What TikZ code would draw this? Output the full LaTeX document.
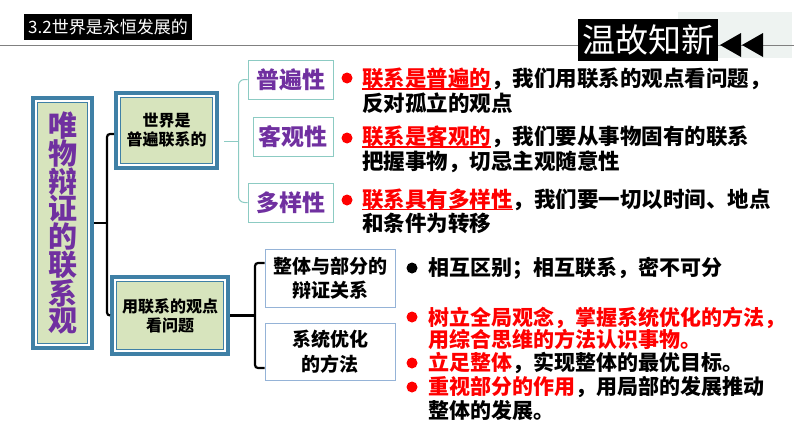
\documentclass[tikz,border=0pt]{standalone}
\usepackage{fontspec}
\setmainfont{Noto Sans CJK SC}
\definecolor{boxblue}{HTML}{3F80A6}
\definecolor{boxgreen}{HTML}{D7E4BD}
\definecolor{zipurple}{HTML}{7030A0}
\definecolor{tealline}{HTML}{8CCBC3}
\definecolor{lanbian}{HTML}{95B3D7}
\definecolor{hongse}{HTML}{FF0000}
\definecolor{shuiyin}{HTML}{EEF3F1}
\newcommand{\huaxian}[1]{\setbox0=\hbox{#1}\rlap{\rule[-3pt]{\wd0}{1.6pt}}\box0}

\begin{document}
\begin{tikzpicture}[x=1pt,y=-1pt,
  mainbox/.style={draw=boxblue, line width=4, fill=boxgreen, align=center,
    path picture={
      \draw[white, line width=1.5] ([shift={(2.8,2.8)}]path picture bounding box.north west) rectangle ([shift={(-2.8,-2.8)}]path picture bounding box.south east);
      \draw[boxblue, line width=1] ([shift={(4.2,4.2)}]path picture bounding box.north west) rectangle ([shift={(-4.2,-4.2)}]path picture bounding box.south east);
    }},
  labelbox/.style={draw=tealline, line width=1, fill=white, text=zipurple, font=\fontsize{23}{26}\selectfont\bfseries},
  subbox/.style={draw=lanbian, line width=1, fill=white, align=center, font=\fontsize{19}{24.5}\selectfont\bfseries},
  darkbrace/.style={line width=2.2, rounded corners=3},
  lightbrace/.style={tealline, line width=1, rounded corners=6},
  dot/.style={circle, minimum size=11},
  txt/.style={anchor=west, align=left, font=\fontsize{21.5}{24.5}\selectfont\bfseries}]
\tikzstyle{every node}+=[inner sep=0pt]
\useasboundingbox (0,0) rectangle (794,447);
\fill[shuiyin] (678,12) rectangle (792,58);
\coordinate (lineL) at (0,45);
\coordinate (lineR) at (794,45);
\draw[gray, line width=1] (lineL) -- (lineR);
\node[fill=black, text=white, minimum width=168, minimum height=26, font=\fontsize{17}{17}\selectfont] (biaoti) at (108,27) {3.2世界是永恒发展的};
\node[fill=black, text=white, minimum width=140, minimum height=42, font=\fontsize{33}{33}\selectfont] (wengu) at (648,40) {温故知新};
\fill (720,45) -- (741,33) -- (741,57) -- cycle;
\fill (742,45) -- (763,33) -- (763,57) -- cycle;

\node[mainbox, minimum width=59, minimum height=250, text=zipurple, font=\fontsize{29}{27.6}\selectfont\bfseries] (guan) at (62.5,223) {唯\\物\\辩\\证\\的\\联\\系\\观};
\node[mainbox, minimum width=101, minimum height=75, font=\fontsize{16}{19}\selectfont\bfseries] (jie) at (166.5,130.5) {世界是\\普遍联系的};
\node[mainbox, minimum width=116, minimum height=77, font=\fontsize{16}{19}\selectfont\bfseries] (yong) at (170,315.5) {用联系的观点\\看问题};
\coordinate (zhong) at (107,223);
\draw[darkbrace] (guan.east) -- (zhong);
\draw[darkbrace] ([yshift=-3.5pt]jie.west) -| (zhong) |- (yong.west);

\node[labelbox, minimum width=85, minimum height=39] (pu) at (290.5,79.5) {普遍性};
\node[labelbox, minimum width=80, minimum height=39] (ke) at (293,136.5) {客观性};
\node[labelbox, minimum width=85, minimum height=39] (duo) at (290.5,202.5) {多样性};
\coordinate (fen) at (238.5,141);
\coordinate (fenL) at (224,141);
\draw[lightbrace] (pu.west) -| (fen) |- (duo.west);
\draw[lightbrace] (fenL) -- (fen);

\node[subbox, minimum width=130, minimum height=58] (zhengti) at (330,278) {整体与部分的\\辩证关系};
\node[subbox, minimum width=130, minimum height=57] (xitong) at (330,351.5) {系统优化\\的方法};
\coordinate (fen2) at (255,315.5);
\draw[darkbrace] (yong.east) -- (fen2);
\draw[darkbrace] ([yshift=15pt]zhengti.west) -| (fen2) |- ([yshift=-16.5pt]xitong.west);

\node[dot, fill=hongse] (d1) at (347,78) {};
\node[txt] (t1) at (362,90.5) {\textcolor{hongse}{\huaxian{联系是普遍的}}，我们用联系的观点看问题，\\反对孤立的观点};
\node[dot, fill=hongse] (d2) at (347,138) {};
\node[txt] (t2) at (362,149.5) {\textcolor{hongse}{\huaxian{联系是客观的}}，我们要从事物固有的联系\\把握事物，切忌主观随意性};
\node[dot, fill=hongse] (d3) at (347,200) {};
\node[txt] (t3) at (362,211.5) {\textcolor{hongse}{\huaxian{联系具有多样性}}，我们要一切以时间、地点\\和条件为转移};

\node[dot, fill=black] (d4) at (412,268) {};
\node[txt, font=\fontsize{21}{24}\selectfont\bfseries] (t4) at (428,268) {相互区别；相互联系，密不可分};
\node[dot, fill=hongse] (d5) at (412,317) {};
\node[txt, text=hongse, font=\fontsize{21}{22}\selectfont\bfseries] (t5) at (428,328) {树立全局观念，掌握系统优化的方法，\\用综合思维的方法认识事物。};
\node[dot, fill=hongse] (d6) at (412,363) {};
\node[txt, font=\fontsize{21}{24}\selectfont\bfseries] (t6) at (428,363) {\textcolor{hongse}{立足整体}，实现整体的最优目标。};
\node[dot, fill=hongse] (d7) at (412,387) {};
\node[txt, font=\fontsize{21}{24}\selectfont\bfseries] (t7) at (428,399) {\textcolor{hongse}{重视部分的作用}，用局部的发展推动\\整体的发展。};
\end{tikzpicture}
\end{document}
